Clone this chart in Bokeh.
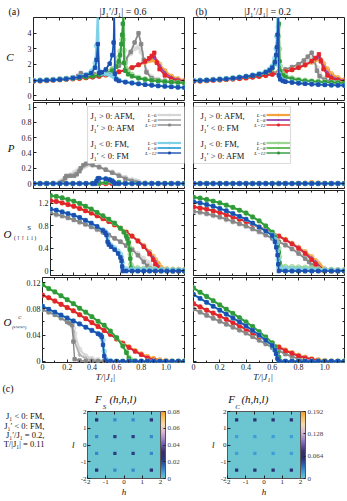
from bokeh.plotting import figure
from bokeh.layouts import column, row
from bokeh.models import (LinearAxis, FixedTicker, Range1d, Label, BoxAnnotation, Legend,
                          LegendItem, ColorBar, LinearColorMapper, ColumnDataSource, Title)
from bokeh.core.properties import value
from bokeh.embed import file_html
from bokeh.resources import INLINE

SERIF = "Liberation Serif"
X_MAX = 1.15
EM, EN, THIN = "\u2003", "\u2002", "\u2009"

# ---------------- tick definitions ----------------
X_MAJOR = [0, 0.2, 0.4, 0.6, 0.8, 1.0]
X_MINOR = [0.1, 0.3, 0.5, 0.7, 0.9, 1.1]
X_LABELS = ["0", "0.2", "0.4", "0.6", "0.8", "1.0"]
C_TICKS = [0, 1, 2, 3, 4]
C_LABELS = ["0", "1", "2", "3", "4"]
P_TICKS = [0, 0.2, 0.4, 0.6, 0.8, 1.0]
P_LABELS = ["0", "0.2", "0.4", "0.6", "0.8", "1"]
S_TICKS = [0, 0.4, 0.8, 1.2]
S_MINOR = [0.2, 0.6, 1.0]
S_LABELS = ["0", "0.4", "0.8", "1.2"]
O_TICKS = [0, 0.04, 0.08, 0.12]
O_MINOR = [0.02, 0.06, 0.1]
O_LABELS = ["0", "0.04", "0.08", "0.12"]

T05 = [0.0, 0.05, 0.1, 0.15, 0.2, 0.25, 0.3, 0.35, 0.4, 0.45, 0.5, 0.55, 0.6, 0.65,
       0.7, 0.75, 0.8, 0.85, 0.9, 0.95, 1.0, 1.05, 1.1, 1.15]
ZERO24 = [0, 0, 0, 0, 0, 0, 0, 0, 0, 0, 0, 0, 0, 0, 0, 0, 0, 0, 0, 0, 0, 0, 0, 0]

# ---------------- (a) |J1'/J1| = 0.6 : specific heat C ----------------
A_C_GRAY_T = [0.0, 0.05, 0.1, 0.15, 0.2, 0.25, 0.3, 0.34, 0.36, 0.38, 0.42, 0.46, 0.5, 0.55, 0.6,
              0.65, 0.7, 0.74, 0.77, 0.8, 0.82, 0.84, 0.86, 0.9, 0.95, 1.0, 1.05, 1.1, 1.15]
A_C_GRAY12 = [0.97, 1.0, 1.02, 1.05, 1.08, 1.12, 1.18, 1.26, 1.45, 1.3, 1.32, 1.38, 1.45, 1.55, 1.7,
              1.92, 2.3, 2.8, 3.4, 4.0, 3.3, 2.3, 1.5, 1.12, 1.0, 0.95, 0.91, 0.88, 0.85]
A_C_GRAY6 = [0.97, 1.0, 1.02, 1.05, 1.08, 1.12, 1.18, 1.24, 1.3, 1.32, 1.35, 1.4, 1.47, 1.57, 1.72,
             1.95, 2.3, 2.7, 3.0, 3.1, 2.8, 2.2, 1.6, 1.2, 1.05, 0.97, 0.92, 0.89, 0.86]
A_C_RED_T = [0.0, 0.05, 0.1, 0.15, 0.2, 0.25, 0.3, 0.35, 0.4, 0.45, 0.5, 0.55, 0.6, 0.65, 0.7, 0.75,
             0.8, 0.85, 0.88, 0.9, 0.92, 0.94, 0.96, 1.0, 1.05, 1.1, 1.15]
A_C_RED12 = [0.93, 0.95, 0.97, 1.0, 1.02, 1.05, 1.08, 1.11, 1.15, 1.2, 1.25, 1.33, 1.42, 1.53, 1.65,
             1.8, 1.98, 2.2, 2.4, 2.55, 2.75, 2.1, 1.7, 1.3, 1.07, 0.96, 0.9]
A_C_RED6 = [0.93, 0.95, 0.97, 1.0, 1.02, 1.05, 1.08, 1.11, 1.15, 1.2, 1.25, 1.33, 1.42, 1.53, 1.65,
            1.8, 1.97, 2.15, 2.25, 2.3, 2.28, 2.15, 2.0, 1.6, 1.25, 1.08, 0.98]
A_C_RED8 = [0.93, 0.95, 0.97, 1.0, 1.02, 1.05, 1.08, 1.11, 1.15, 1.2, 1.25, 1.33, 1.42, 1.53, 1.65,
            1.8, 1.98, 2.18, 2.35, 2.48, 2.45, 2.2, 1.9, 1.45, 1.15, 1.02, 0.94]
A_C_GREEN_T = [0.0, 0.05, 0.1, 0.15, 0.2, 0.25, 0.3, 0.35, 0.4, 0.45, 0.5, 0.55, 0.6, 0.63, 0.65,
               0.66, 0.67, 0.675, 0.68, 0.685, 0.69, 0.7, 0.72, 0.75, 0.8, 0.85, 0.9, 0.95, 1.0,
               1.05, 1.1, 1.15]
A_C_GREEN12 = [0.97, 0.98, 1.0, 1.02, 1.05, 1.08, 1.12, 1.16, 1.2, 1.26, 1.32, 1.42, 1.6, 1.85, 2.2,
               2.6, 3.3, 3.9, 4.6, 5.3, 2.1, 1.6, 1.38, 1.25, 1.12, 1.04, 0.98, 0.94, 0.9, 0.87,
               0.84, 0.82]
A_C_GREEN6 = [0.98, 0.99, 1.01, 1.03, 1.06, 1.09, 1.13, 1.18, 1.23, 1.3, 1.38, 1.5, 1.72, 2.0, 2.45,
              2.85, 3.3, 3.6, 3.85, 3.6, 2.9, 2.1, 1.6, 1.36, 1.18, 1.08, 1.01, 0.96, 0.92, 0.89,
              0.86, 0.84]
A_C_BLUE_T = [0.0, 0.05, 0.1, 0.15, 0.2, 0.25, 0.3, 0.35, 0.4, 0.44, 0.47, 0.48, 0.49, 0.5, 0.52,
              0.55, 0.58, 0.6, 0.61, 0.615, 0.62, 0.63, 0.65, 0.7, 0.75, 0.8, 0.85, 0.9, 0.95, 1.0,
              1.05, 1.1, 1.15]
A_C_BLUE12 = [0.95, 0.97, 0.99, 1.01, 1.04, 1.08, 1.13, 1.2, 1.3, 1.45, 1.8, 2.3, 3.3, 1.45, 1.5,
              1.68, 2.05, 2.6, 3.4, 5.3, 1.4, 1.05, 0.95, 0.87, 0.81, 0.76, 0.71, 0.67, 0.63, 0.6,
              0.57, 0.54, 0.52]
A_C_BLUE6 = [0.97, 0.99, 1.01, 1.03, 1.06, 1.1, 1.15, 1.23, 1.35, 1.55, 2.1, 3.2, 5.3, 1.6, 1.45,
             1.4, 1.35, 1.3, 1.25, 1.22, 1.18, 1.1, 1.0, 0.9, 0.84, 0.78, 0.73, 0.69, 0.65, 0.62,
             0.59, 0.56, 0.54]

# ---------------- (b) |J1'/J1| = 0.2 : specific heat C ----------------
B_C_GRAY_T = [0.0, 0.05, 0.1, 0.15, 0.2, 0.25, 0.3, 0.35, 0.4, 0.45, 0.5, 0.55, 0.6, 0.65, 0.7, 0.75,
              0.8, 0.84, 0.87, 0.9, 0.92, 0.94, 0.96, 1.0, 1.05, 1.1, 1.15]
B_C_GRAY12 = [0.96, 0.98, 1.0, 1.03, 1.06, 1.09, 1.12, 1.16, 1.2, 1.25, 1.31, 1.38, 1.46, 1.56, 1.68,
              1.83, 2.02, 2.25, 2.5, 2.75, 2.3, 1.6, 1.25, 1.02, 0.94, 0.89, 0.85]
B_C_GRAY6 = [0.96, 0.98, 1.0, 1.03, 1.06, 1.09, 1.12, 1.16, 1.2, 1.25, 1.31, 1.38, 1.46, 1.56, 1.68,
             1.82, 1.98, 2.15, 2.3, 2.4, 2.25, 1.8, 1.4, 1.1, 0.97, 0.91, 0.87]
B_C_RED_T = [0.0, 0.05, 0.1, 0.15, 0.2, 0.25, 0.3, 0.35, 0.4, 0.45, 0.5, 0.55, 0.6, 0.65, 0.7, 0.75,
             0.8, 0.85, 0.9, 0.93, 0.955, 0.97, 0.99, 1.02, 1.05, 1.1, 1.15]
B_C_RED12 = [0.92, 0.94, 0.96, 0.99, 1.01, 1.04, 1.07, 1.1, 1.14, 1.19, 1.24, 1.3, 1.37, 1.45, 1.54,
             1.66, 1.8, 1.98, 2.22, 2.42, 2.65, 2.2, 1.7, 1.3, 1.12, 0.99, 0.92]
B_C_RED6 = [0.92, 0.94, 0.96, 0.99, 1.01, 1.04, 1.07, 1.1, 1.14, 1.19, 1.24, 1.3, 1.37, 1.45, 1.54,
            1.66, 1.8, 1.96, 2.15, 2.3, 2.38, 2.3, 2.05, 1.7, 1.4, 1.15, 1.02]
B_C_RED8 = [0.92, 0.94, 0.96, 0.99, 1.01, 1.04, 1.07, 1.1, 1.14, 1.19, 1.24, 1.3, 1.37, 1.45, 1.54,
            1.66, 1.8, 1.97, 2.2, 2.38, 2.5, 2.3, 1.85, 1.45, 1.22, 1.05, 0.96]
B_C_GREEN_T = [0.0, 0.05, 0.1, 0.15, 0.2, 0.25, 0.3, 0.35, 0.4, 0.45, 0.5, 0.55, 0.58, 0.6, 0.62,
               0.63, 0.64, 0.645, 0.65, 0.655, 0.66, 0.68, 0.7, 0.75, 0.8, 0.85, 0.9, 0.95, 1.0,
               1.05, 1.1, 1.15]
B_C_GREEN12 = [0.96, 0.98, 1.0, 1.03, 1.06, 1.09, 1.13, 1.17, 1.22, 1.28, 1.36, 1.48, 1.6, 1.75,
               2.05, 2.4, 3.0, 3.8, 4.6, 2.2, 1.55, 1.3, 1.2, 1.08, 1.0, 0.95, 0.92, 0.89, 0.87,
               0.85, 0.83, 0.81]
B_C_GREEN6 = [0.97, 0.99, 1.01, 1.04, 1.07, 1.1, 1.14, 1.19, 1.24, 1.31, 1.4, 1.53, 1.68, 1.85, 2.2,
              2.6, 3.3, 4.4, 5.3, 3.0, 1.9, 1.45, 1.3, 1.14, 1.05, 0.99, 0.95, 0.92, 0.89, 0.87,
              0.85, 0.83]
B_C_BLUE_T = [0.0, 0.05, 0.1, 0.15, 0.2, 0.25, 0.3, 0.35, 0.4, 0.45, 0.5, 0.55, 0.58, 0.6, 0.62,
              0.63, 0.635, 0.64, 0.645, 0.65, 0.66, 0.68, 0.7, 0.75, 0.8, 0.85, 0.9, 0.95, 1.0,
              1.05, 1.1, 1.15]
B_C_BLUE12 = [0.95, 0.97, 0.99, 1.02, 1.05, 1.08, 1.12, 1.17, 1.23, 1.3, 1.38, 1.5, 1.63, 1.8, 2.15,
              2.6, 3.1, 3.9, 5.3, 1.3, 1.05, 0.95, 0.9, 0.85, 0.8, 0.77, 0.74, 0.72, 0.7, 0.68,
              0.67, 0.66]
B_C_BLUE6 = [0.97, 0.99, 1.01, 1.04, 1.07, 1.1, 1.14, 1.19, 1.25, 1.33, 1.42, 1.55, 1.7, 1.9, 2.4,
             3.0, 3.8, 5.3, 2.0, 1.4, 1.15, 1.0, 0.94, 0.88, 0.83, 0.79, 0.76, 0.73, 0.71, 0.69,
             0.68, 0.67]

# ---------------- order parameter P ----------------
A_P_GRAY_T = [0.0, 0.05, 0.1, 0.15, 0.2, 0.22, 0.24, 0.25, 0.28, 0.31, 0.33, 0.35, 0.36, 0.38, 0.4,
              0.45, 0.5, 0.55, 0.6, 0.65, 0.7, 0.75, 0.78, 0.8, 0.85, 0.9, 0.95, 1.0, 1.05, 1.1, 1.15]
A_P_GRAY12 = [0, 0, 0, 0, 0, 0.02, 0.07, 0.1, 0.1, 0.1, 0.12, 0.16, 0.2, 0.24, 0.26, 0.245, 0.215,
              0.18, 0.14, 0.1, 0.06, 0.03, 0.012, 0.004, 0, 0, 0, 0, 0, 0, 0]
A_P_GRAY8 = [0, 0, 0, 0.002, 0.01, 0.03, 0.065, 0.09, 0.105, 0.12, 0.14, 0.175, 0.2, 0.23, 0.25,
             0.24, 0.215, 0.182, 0.145, 0.108, 0.07, 0.04, 0.022, 0.014, 0.004, 0.001, 0, 0, 0, 0, 0]
A_P_GRAY6 = [0, 0, 0, 0.005, 0.02, 0.04, 0.06, 0.08, 0.11, 0.14, 0.16, 0.19, 0.2, 0.22, 0.235,
             0.235, 0.215, 0.185, 0.15, 0.115, 0.08, 0.05, 0.035, 0.025, 0.01, 0.003, 0, 0, 0, 0, 0]
A_P_BLUE_T = [0.0, 0.05, 0.1, 0.15, 0.2, 0.25, 0.3, 0.35, 0.4, 0.45, 0.47, 0.48, 0.49, 0.5, 0.55,
              0.58, 0.6, 0.61, 0.62, 0.65, 0.7, 0.75, 0.8, 0.85, 0.9, 0.95, 1.0, 1.05, 1.1, 1.15]
A_P_BLUE12 = [0, 0, 0, 0, 0, 0, 0, 0, 0, 0, 0, 0.03, 0.065, 0.068, 0.062, 0.05, 0.035, 0.015, 0,
              0, 0, 0, 0, 0, 0, 0, 0, 0, 0, 0]
A_P_GREEN12 = [0, 0, 0, 0, 0, 0, 0, 0, 0, 0, 0.005, 0.015, 0.022, 0.015, 0, 0, 0, 0, 0, 0, 0, 0,
               0, 0]
B_P_RED6 = [0, 0, 0, 0, 0, 0, 0, 0, 0, 0, 0, 0, 0, 0, 0, 0, 0, 0.004, 0.012, 0.006, 0, 0, 0, 0]

# ---------------- O^S ----------------
A_S_GRAY_T = [0.0, 0.05, 0.1, 0.15, 0.2, 0.25, 0.3, 0.35, 0.4, 0.45, 0.5, 0.55, 0.6, 0.65, 0.7, 0.75,
              0.8, 0.83, 0.85, 0.88, 0.9, 0.95, 1.0, 1.05, 1.1, 1.15]
A_S_GRAY12 = [1.03, 1.005, 0.98, 0.945, 0.91, 0.87, 0.83, 0.785, 0.74, 0.69, 0.64, 0.58, 0.52, 0.45,
              0.38, 0.28, 0.16, 0.09, 0.05, 0.02, 0.01, 0, 0, 0, 0, 0]
A_S_GRAY6 = [1.02, 0.995, 0.97, 0.94, 0.905, 0.865, 0.825, 0.78, 0.735, 0.685, 0.635, 0.58, 0.52,
             0.46, 0.39, 0.31, 0.22, 0.16, 0.12, 0.07, 0.05, 0.02, 0.01, 0.005, 0, 0]
A_S_RED_T = [0.0, 0.05, 0.1, 0.15, 0.2, 0.25, 0.3, 0.35, 0.4, 0.45, 0.5, 0.55, 0.6, 0.65, 0.7, 0.75,
             0.8, 0.85, 0.88, 0.9, 0.92, 0.93, 0.95, 1.0, 1.05, 1.1, 1.15]
A_S_RED12 = [1.25, 1.235, 1.21, 1.18, 1.15, 1.11, 1.07, 1.03, 0.98, 0.93, 0.88, 0.82, 0.76, 0.69,
             0.62, 0.53, 0.43, 0.3, 0.2, 0.12, 0.05, 0.02, 0.01, 0, 0, 0, 0]
A_S_RED8 = [1.25, 1.235, 1.21, 1.18, 1.15, 1.11, 1.07, 1.03, 0.98, 0.93, 0.88, 0.82, 0.76, 0.69,
            0.62, 0.535, 0.44, 0.32, 0.23, 0.16, 0.09, 0.06, 0.03, 0.02, 0.015, 0.012, 0.01]
A_S_RED6 = [1.25, 1.235, 1.21, 1.18, 1.15, 1.11, 1.07, 1.03, 0.98, 0.93, 0.88, 0.82, 0.76, 0.69,
            0.62, 0.54, 0.45, 0.34, 0.26, 0.2, 0.14, 0.11, 0.06, 0.035, 0.03, 0.027, 0.025]
A_S_GREEN_T = [0.0, 0.05, 0.1, 0.15, 0.2, 0.25, 0.3, 0.35, 0.4, 0.45, 0.5, 0.55, 0.6, 0.63, 0.65,
               0.66, 0.67, 0.68, 0.685, 0.69, 0.7, 0.75, 0.8, 0.85, 0.9, 0.95, 1.0, 1.05, 1.1, 1.15]
A_S_GREEN12 = [1.34, 1.325, 1.3, 1.27, 1.24, 1.2, 1.15, 1.1, 1.04, 0.98, 0.92, 0.85, 0.76, 0.69,
               0.62, 0.57, 0.5, 0.38, 0.22, 0.05, 0, 0, 0, 0, 0, 0, 0, 0, 0, 0]
A_S_GREEN6 = [1.34, 1.325, 1.3, 1.27, 1.24, 1.2, 1.15, 1.1, 1.04, 0.98, 0.92, 0.85, 0.76, 0.69,
              0.63, 0.58, 0.52, 0.42, 0.3, 0.12, 0.07, 0.055, 0.045, 0.04, 0.035, 0.03, 0.028,
              0.025, 0.023, 0.021]
A_S_BLUE_T = [0.0, 0.05, 0.1, 0.15, 0.2, 0.25, 0.3, 0.35, 0.4, 0.45, 0.47, 0.48, 0.49, 0.5, 0.52,
              0.55, 0.58, 0.6, 0.61, 0.615, 0.62, 0.65, 0.7, 0.75, 0.8, 0.85, 0.9, 0.95, 1.0, 1.05,
              1.1, 1.15]
A_S_BLUE12 = [1.1, 1.08, 1.05, 1.02, 0.99, 0.95, 0.9, 0.85, 0.79, 0.72, 0.68, 0.64, 0.52, 0.47,
              0.43, 0.38, 0.31, 0.24, 0.18, 0.08, 0, 0, 0, 0, 0, 0, 0, 0, 0, 0, 0, 0]
A_S_BLUE6 = [1.1, 1.08, 1.05, 1.02, 0.99, 0.95, 0.9, 0.85, 0.79, 0.73, 0.7, 0.67, 0.6, 0.5, 0.45,
             0.41, 0.35, 0.3, 0.24, 0.15, 0.06, 0.035, 0.03, 0.028, 0.026, 0.024, 0.022, 0.021,
             0.02, 0.019, 0.018, 0.018]

B_S_GRAY_T = [0.0, 0.05, 0.1, 0.15, 0.2, 0.25, 0.3, 0.35, 0.4, 0.45, 0.5, 0.55, 0.6, 0.65, 0.7, 0.75,
              0.8, 0.85, 0.88, 0.9, 0.92, 0.95, 1.0, 1.05, 1.1, 1.15]
B_S_GRAY12 = [1.06, 1.045, 1.02, 0.99, 0.96, 0.92, 0.88, 0.84, 0.8, 0.75, 0.7, 0.64, 0.58, 0.52,
              0.46, 0.39, 0.31, 0.22, 0.16, 0.1, 0.04, 0.01, 0, 0, 0, 0]
B_S_GRAY6 = [1.05, 1.035, 1.01, 0.98, 0.95, 0.91, 0.87, 0.83, 0.79, 0.74, 0.69, 0.635, 0.58, 0.52,
             0.46, 0.4, 0.33, 0.25, 0.2, 0.15, 0.1, 0.05, 0.02, 0.01, 0.005, 0]
B_S_RED_T = [0.0, 0.05, 0.1, 0.15, 0.2, 0.25, 0.3, 0.35, 0.4, 0.45, 0.5, 0.55, 0.6, 0.65, 0.7, 0.75,
             0.8, 0.85, 0.9, 0.93, 0.95, 0.96, 0.97, 1.0, 1.05, 1.1, 1.15]
B_S_RED12 = [1.14, 1.12, 1.1, 1.07, 1.04, 1.0, 0.96, 0.92, 0.88, 0.83, 0.78, 0.73, 0.68, 0.62, 0.55,
             0.48, 0.4, 0.31, 0.2, 0.12, 0.06, 0.03, 0.015, 0.005, 0, 0, 0]
B_S_RED8 = [1.14, 1.12, 1.1, 1.07, 1.04, 1.0, 0.96, 0.92, 0.88, 0.83, 0.78, 0.73, 0.68, 0.62, 0.555,
            0.485, 0.41, 0.32, 0.22, 0.15, 0.09, 0.06, 0.04, 0.02, 0.015, 0.012, 0.01]
B_S_RED6 = [1.14, 1.12, 1.1, 1.07, 1.04, 1.0, 0.96, 0.92, 0.88, 0.83, 0.78, 0.73, 0.68, 0.62, 0.56,
            0.49, 0.42, 0.34, 0.25, 0.18, 0.13, 0.1, 0.07, 0.035, 0.025, 0.022, 0.02]
B_S_GREEN_T = [0.0, 0.05, 0.1, 0.15, 0.2, 0.25, 0.3, 0.35, 0.4, 0.45, 0.5, 0.55, 0.6, 0.62, 0.64,
               0.65, 0.655, 0.66, 0.7, 0.75, 0.8, 0.85, 0.9, 0.95, 1.0, 1.05, 1.1, 1.15]
B_S_GREEN12 = [1.31, 1.295, 1.27, 1.24, 1.21, 1.17, 1.13, 1.08, 1.03, 0.96, 0.89, 0.8, 0.69, 0.6,
               0.45, 0.33, 0.15, 0.02, 0, 0, 0, 0, 0, 0, 0, 0, 0, 0]
B_S_GREEN6 = [1.31, 1.295, 1.27, 1.24, 1.21, 1.17, 1.13, 1.08, 1.03, 0.96, 0.89, 0.8, 0.69, 0.62,
              0.5, 0.4, 0.25, 0.1, 0.08, 0.075, 0.07, 0.065, 0.06, 0.04, 0.03, 0.025, 0.02, 0.02]
B_S_BLUE_T = [0.0, 0.05, 0.1, 0.15, 0.2, 0.25, 0.3, 0.35, 0.4, 0.45, 0.5, 0.55, 0.6, 0.62, 0.63,
              0.64, 0.645, 0.65, 0.7, 0.75, 0.8, 0.85, 0.9, 0.95, 1.0, 1.05, 1.1, 1.15]
B_S_BLUE12 = [1.23, 1.21, 1.18, 1.15, 1.11, 1.07, 1.02, 0.97, 0.92, 0.85, 0.78, 0.71, 0.63, 0.52,
              0.42, 0.28, 0.12, 0, 0, 0, 0, 0, 0, 0, 0, 0, 0, 0]
B_S_BLUE6 = [1.23, 1.21, 1.18, 1.15, 1.11, 1.07, 1.02, 0.97, 0.92, 0.85, 0.78, 0.71, 0.64, 0.56,
             0.48, 0.36, 0.2, 0.06, 0.045, 0.04, 0.035, 0.03, 0.025, 0.02, 0.02, 0.018, 0.017, 0.016]

# ---------------- O^C ----------------
A_O_GRAY_T = [0.0, 0.05, 0.1, 0.15, 0.2, 0.22, 0.24, 0.25, 0.26, 0.3, 0.35, 0.4, 0.45, 0.5, 0.55,
              0.6, 0.65, 0.7, 0.75, 0.8, 0.85, 0.9, 0.95, 1.0, 1.05, 1.1, 1.15]
A_O_GRAY12 = [0.079, 0.075, 0.071, 0.066, 0.06, 0.058, 0.055, 0.03, 0.003, 0.001, 0, 0, 0, 0, 0, 0,
              0, 0, 0, 0, 0, 0, 0, 0, 0, 0, 0]
A_O_GRAY8 = [0.079, 0.075, 0.071, 0.066, 0.06, 0.058, 0.056, 0.045, 0.03, 0.01, 0.004, 0.002, 0.001,
             0, 0, 0, 0, 0, 0, 0, 0, 0, 0, 0, 0, 0, 0]
A_O_GRAY6 = [0.079, 0.075, 0.071, 0.066, 0.061, 0.059, 0.057, 0.05, 0.042, 0.018, 0.008, 0.004,
             0.002, 0.001, 0, 0, 0, 0, 0, 0, 0, 0, 0, 0, 0, 0, 0]
A_O_RED12 = [0.101, 0.097, 0.092, 0.087, 0.082, 0.077, 0.071, 0.065, 0.059, 0.053, 0.047, 0.041,
             0.034, 0.027, 0.021, 0.015, 0.01, 0.005, 0.002, 0, 0, 0, 0, 0]
A_O_RED6 = [0.101, 0.097, 0.092, 0.087, 0.082, 0.077, 0.071, 0.065, 0.059, 0.053, 0.047, 0.041,
            0.034, 0.028, 0.022, 0.016, 0.011, 0.007, 0.004, 0.002, 0.001, 0, 0, 0]
A_O_GREEN_T = [0.0, 0.05, 0.1, 0.15, 0.2, 0.25, 0.3, 0.35, 0.4, 0.45, 0.5, 0.55, 0.6, 0.65, 0.68,
               0.7, 0.72, 0.75, 0.8, 0.85, 0.9, 0.95, 1.0, 1.05, 1.1, 1.15]
A_O_GREEN12 = [0.117, 0.111, 0.106, 0.1, 0.094, 0.088, 0.081, 0.075, 0.068, 0.061, 0.055, 0.046,
               0.036, 0.023, 0.013, 0.004, 0, 0, 0, 0, 0, 0, 0, 0, 0, 0]
A_O_GREEN6 = [0.117, 0.111, 0.106, 0.1, 0.094, 0.088, 0.081, 0.075, 0.068, 0.061, 0.055, 0.046,
              0.036, 0.024, 0.014, 0.006, 0.002, 0.001, 0, 0, 0, 0, 0, 0, 0, 0]
A_O_BLUE_T = [0.0, 0.05, 0.1, 0.15, 0.2, 0.25, 0.3, 0.35, 0.4, 0.45, 0.47, 0.48, 0.49, 0.5, 0.51,
              0.55, 0.6, 0.65, 0.7, 0.75, 0.8, 0.85, 0.9, 0.95, 1.0, 1.05, 1.1, 1.15]
A_O_BLUE12 = [0.084, 0.0795, 0.075, 0.0705, 0.066, 0.0615, 0.057, 0.052, 0.047, 0.042, 0.04, 0.037,
              0.025, 0.008, 0.001, 0, 0, 0, 0, 0, 0, 0, 0, 0, 0, 0, 0, 0]
A_O_BLUE6 = [0.084, 0.0795, 0.075, 0.0705, 0.066, 0.0615, 0.057, 0.052, 0.047, 0.042, 0.04, 0.038,
             0.032, 0.015, 0.004, 0.001, 0, 0, 0, 0, 0, 0, 0, 0, 0, 0, 0, 0]

B_O_GRAY12 = [0.08, 0.075, 0.07, 0.0655, 0.061, 0.0565, 0.052, 0.0475, 0.043, 0.0375, 0.032, 0.0265,
              0.021, 0.016, 0.011, 0.007, 0.004, 0.001, 0, 0, 0, 0, 0, 0]
B_O_RED12 = [0.088, 0.083, 0.078, 0.0735, 0.069, 0.064, 0.059, 0.054, 0.049, 0.0435, 0.038, 0.0325,
             0.027, 0.0215, 0.016, 0.012, 0.008, 0.005, 0.003, 0.001, 0, 0, 0, 0]
B_O_RED6 = [0.088, 0.083, 0.078, 0.0735, 0.069, 0.064, 0.059, 0.054, 0.049, 0.0435, 0.038, 0.0325,
            0.027, 0.022, 0.017, 0.013, 0.009, 0.006, 0.0035, 0.002, 0.001, 0, 0, 0]
B_O_GREEN_T = [0.0, 0.05, 0.1, 0.15, 0.2, 0.25, 0.3, 0.35, 0.4, 0.45, 0.5, 0.55, 0.6, 0.62, 0.64,
               0.65, 0.66, 0.7, 0.75, 0.8, 0.85, 0.9, 0.95, 1.0, 1.05, 1.1, 1.15]
B_O_GREEN12 = [0.112, 0.1055, 0.099, 0.0925, 0.086, 0.0795, 0.073, 0.0665, 0.06, 0.053, 0.045, 0.037,
               0.028, 0.022, 0.013, 0.006, 0, 0, 0, 0, 0, 0, 0, 0, 0, 0, 0]
B_O_BLUE_T = [0.0, 0.05, 0.1, 0.15, 0.2, 0.25, 0.3, 0.35, 0.4, 0.45, 0.5, 0.55, 0.6, 0.62, 0.63,
              0.64, 0.65, 0.7, 0.75, 0.8, 0.85, 0.9, 0.95, 1.0, 1.05, 1.1, 1.15]
B_O_BLUE12 = [0.102, 0.096, 0.09, 0.084, 0.078, 0.072, 0.066, 0.06, 0.054, 0.047, 0.04, 0.032, 0.024,
              0.017, 0.011, 0.004, 0, 0, 0, 0, 0, 0, 0, 0, 0, 0, 0]

# ---------------- (c) structure factors ----------------
SPOT_H = [-1.5, -0.5, 0.5, 1.5, -1.5, -0.5, 0.5, 1.5, -1.5, -0.5, 0.5, 1.5, -1.5, -0.5, 0.5, 1.5]
SPOT_L = [1.5, 1.5, 1.5, 1.5, 0.5, 0.5, 0.5, 0.5, -0.5, -0.5, -0.5, -0.5, -1.5, -1.5, -1.5, -1.5]
FS_VAL = [0.024, 0.011, 0.011, 0.024, 0.011, 0.022, 0.022, 0.011,
          0.011, 0.022, 0.022, 0.011, 0.024, 0.011, 0.011, 0.024]
FC_VAL = [0.06, 0.06, 0.06, 0.06, 0.02, 0.02, 0.02, 0.02,
          0.02, 0.02, 0.02, 0.02, 0.06, 0.06, 0.06, 0.06]
HM_TICKS = [-2, -1, 0, 1, 2]
HM_LABELS = ["-2", "-1", "0", "1", "2"]
HM_TOP_TICKS = [-1.5, -0.5, 0.5, 1.5]
FS_CB_TICKS = [0, 0.02, 0.04, 0.06, 0.08]
FS_CB_LABELS = ["0", "0.02", "0.04", "0.06", "0.08"]
FC_CB_TICKS = [0, 0.064, 0.128, 0.192]
FC_CB_LABELS = ["0", "0.064", "0.128", "0.192"]
C_TEXT_L = [1.73, 1.16, 0.62, 0.08]
C_TEXT = ["J₁ < 0: FM,", "J₁′ < 0: FM,", "J₁′/J₁ = 0.2,", "T/|J₁| = 0.11"]

# ---------------- styling ----------------
GROUP_ORDER = ["gray", "red", "green", "blue"]
L_SIZES = [6, 8, 12]
COLORS = {
    "gray": {6: "#d6d6d6", 8: "#b3b3b3", 12: "#878787"},
    "red": {6: "#f6a23a", 8: "#9a46b0", 12: "#e5242a"},
    "green": {6: "#9ad592", 8: "#55b94f", 12: "#2f9a3b"},
    "blue": {6: "#80d0e8", 8: "#3aa6d8", 12: "#1d4fb0"},
}
MARKERS = {6: "circle", 8: "diamond", 12: "square"}
MSIZE = {6: 4.6, 8: 4.4, 12: 3.4}
LWIDTH = {6: 2.2, 8: 1.8, 12: 1.4}
CMAP_KEYS = ["#6cc6d2", "#3f9fd6", "#2c63b0", "#2b3277", "#3a2e6c", "#6a58a8", "#a88cc6",
             "#dcb9d2", "#f2dcb6", "#f6c46a", "#f39a2c"]


def lerp_palette(keys, n=256):
    rgb = [tuple(int(k[i:i + 2], 16) for i in (1, 3, 5)) for k in keys]
    out = []
    for j in range(n):
        t = j / (n - 1) * (len(rgb) - 1)
        i = min(int(t), len(rgb) - 2)
        f = t - i
        c = tuple(round(rgb[i][m] + (rgb[i + 1][m] - rgb[i][m]) * f) for m in range(3))
        out.append("#%02x%02x%02x" % c)
    return out


PALETTE = lerp_palette(CMAP_KEYS)


def S(T, Y6, Y8, Y12):
    return {6: (T, Y6), 8: (T, Y8), 12: (T, Y12)}


PANELS = {
    "aC": {"gray": S(A_C_GRAY_T, A_C_GRAY6, A_C_GRAY12, A_C_GRAY12),
           "red": S(A_C_RED_T, A_C_RED6, A_C_RED8, A_C_RED12),
           "green": S(A_C_GREEN_T, A_C_GREEN6, A_C_GREEN12, A_C_GREEN12),
           "blue": S(A_C_BLUE_T, A_C_BLUE6, A_C_BLUE12, A_C_BLUE12)},
    "bC": {"gray": S(B_C_GRAY_T, B_C_GRAY6, B_C_GRAY12, B_C_GRAY12),
           "red": S(B_C_RED_T, B_C_RED6, B_C_RED8, B_C_RED12),
           "green": S(B_C_GREEN_T, B_C_GREEN6, B_C_GREEN12, B_C_GREEN12),
           "blue": S(B_C_BLUE_T, B_C_BLUE6, B_C_BLUE12, B_C_BLUE12)},
    "aP": {"gray": S(A_P_GRAY_T, A_P_GRAY6, A_P_GRAY8, A_P_GRAY12),
           "red": S(T05, ZERO24, ZERO24, ZERO24),
           "green": S(T05, A_P_GREEN12, A_P_GREEN12, A_P_GREEN12),
           "blue": S(A_P_BLUE_T, A_P_BLUE12, A_P_BLUE12, A_P_BLUE12)},
    "bP": {"gray": S(T05, ZERO24, ZERO24, ZERO24),
           "red": S(T05, B_P_RED6, ZERO24, ZERO24),
           "green": S(T05, ZERO24, ZERO24, ZERO24),
           "blue": S(T05, ZERO24, ZERO24, ZERO24)},
    "aS": {"gray": S(A_S_GRAY_T, A_S_GRAY6, A_S_GRAY12, A_S_GRAY12),
           "red": S(A_S_RED_T, A_S_RED6, A_S_RED8, A_S_RED12),
           "green": S(A_S_GREEN_T, A_S_GREEN6, A_S_GREEN12, A_S_GREEN12),
           "blue": S(A_S_BLUE_T, A_S_BLUE6, A_S_BLUE12, A_S_BLUE12)},
    "bS": {"gray": S(B_S_GRAY_T, B_S_GRAY6, B_S_GRAY12, B_S_GRAY12),
           "red": S(B_S_RED_T, B_S_RED6, B_S_RED8, B_S_RED12),
           "green": S(B_S_GREEN_T, B_S_GREEN6, B_S_GREEN12, B_S_GREEN12),
           "blue": S(B_S_BLUE_T, B_S_BLUE6, B_S_BLUE12, B_S_BLUE12)},
    "aO": {"gray": S(A_O_GRAY_T, A_O_GRAY6, A_O_GRAY8, A_O_GRAY12),
           "red": S(T05, A_O_RED6, A_O_RED12, A_O_RED12),
           "green": S(A_O_GREEN_T, A_O_GREEN6, A_O_GREEN12, A_O_GREEN12),
           "blue": S(A_O_BLUE_T, A_O_BLUE6, A_O_BLUE12, A_O_BLUE12)},
    "bO": {"gray": S(T05, B_O_GRAY12, B_O_GRAY12, B_O_GRAY12),
           "red": S(T05, B_O_RED6, B_O_RED12, B_O_RED12),
           "green": S(B_O_GREEN_T, B_O_GREEN12, B_O_GREEN12, B_O_GREEN12),
           "blue": S(B_O_BLUE_T, B_O_BLUE12, B_O_BLUE12, B_O_BLUE12)},
}


def tick_style(ax, major_in=3, minor_in=2):
    ax.axis_line_color = None
    ax.major_tick_in = major_in
    ax.major_tick_out = 0
    ax.minor_tick_in = minor_in
    ax.minor_tick_out = 0
    ax.major_tick_line_color = "#222222"
    ax.minor_tick_line_color = "#222222"


def hide_labels(ax):
    ax.major_label_text_font_size = "0px"
    ax.major_label_standoff = 0
    ax.major_label_text_alpha = 0


def show_labels(ax, ticks, labels, size="8px", standoff=2):
    ax.major_label_text_font = SERIF
    ax.major_label_text_font_size = size
    ax.major_label_standoff = standoff
    ax.major_label_text_color = "#222222"
    ax.major_label_overrides = dict(zip(ticks, labels))


def text_axis(p, side, ticks, labels, size, style="normal", standoff=0, font=SERIF):
    """An axis without line or ticks, used only to write texts beside the frame."""
    ax = LinearAxis(ticker=FixedTicker(ticks=ticks, minor_ticks=[]))
    ax.axis_line_color = None
    ax.major_tick_line_color = None
    ax.minor_tick_line_color = None
    ax.major_tick_in = 0
    ax.major_tick_out = 0
    ax.minor_tick_in = 0
    ax.minor_tick_out = 0
    ax.major_label_overrides = dict(zip(ticks, labels))
    ax.major_label_text_font = font
    ax.major_label_text_font_size = f"{size}px"
    ax.major_label_text_font_style = style
    ax.major_label_standoff = standoff
    ax.major_label_text_color = "#111111"
    p.add_layout(ax, side)


def add_text(p, x, y, text, size, align="left", style="normal", baseline="middle"):
    p.add_layout(Label(x=x, y=y, x_units="screen", y_units="screen", text=text,
                       text_font=SERIF, text_font_size=f"{size}px", text_align=align,
                       text_baseline=baseline, text_font_style=style, text_color="#111111"))


def make_title(text, offset, standoff, size=10):
    return Title(text=text, align="left", offset=offset, standoff=standoff, text_font=SERIF,
                 text_font_size=f"{size}px", text_font_style="normal", text_color="#111111")


def make_panel(col, frame_h, top_b, bot_b, yr, yt, ym, ylabels, xlabels):
    left, fw, right = (33, 151, 4) if col == "a" else (5, 151, 3)
    p = figure(width=left + fw + right, height=top_b + frame_h + bot_b,
               x_range=Range1d(0, X_MAX), y_range=Range1d(yr[0], yr[1]),
               output_backend="svg", toolbar_location=None, title=None,
               x_axis_location=None, y_axis_location=None,
               min_border_left=left, min_border_right=right,
               min_border_top=top_b, min_border_bottom=bot_b)
    p.grid.visible = False
    p.outline_line_color = "#222222"
    p.background_fill_color = "white"
    p.border_fill_color = "white"
    for loc in ("below", "above"):
        ax = LinearAxis(ticker=FixedTicker(ticks=X_MAJOR, minor_ticks=X_MINOR))
        tick_style(ax)
        if loc == "below" and xlabels:
            show_labels(ax, X_MAJOR, X_LABELS, standoff=1)
        else:
            hide_labels(ax)
        p.add_layout(ax, loc)
    for loc in ("left", "right"):
        ax = LinearAxis(ticker=FixedTicker(ticks=yt, minor_ticks=ym))
        tick_style(ax)
        if loc == "left" and col == "a":
            show_labels(ax, yt, ylabels)
        else:
            hide_labels(ax)
        p.add_layout(ax, loc)
    return p


def draw_series(p, data):
    rends = {}
    for g in GROUP_ORDER:
        for L in L_SIZES:
            T, Y = data[g][L]
            src = ColumnDataSource(dict(t=T, y=Y))
            c = COLORS[g][L]
            rl = p.line("t", "y", source=src, line_color=c, line_width=LWIDTH[L])
            rs = p.scatter("t", "y", source=src, marker=MARKERS[L], size=MSIZE[L],
                           line_color=c, fill_color=c, fill_alpha=0.45 if L == 6 else 1.0,
                           line_width=0.9)
            rends[(g, L)] = (rl, rs)
    return rends


ROWDEF = {
    "C": dict(frame_h=83, top_b=17, bot_b=1, yr=(-0.3, 5.0), yt=C_TICKS, ym=[], yl=C_LABELS),
    "P": dict(frame_h=86, top_b=1, bot_b=1, yr=(-0.065, 1.06), yt=P_TICKS, ym=[], yl=P_LABELS),
    "S": dict(frame_h=85, top_b=1, bot_b=1, yr=(-0.08, 1.43), yt=S_TICKS, ym=S_MINOR, yl=S_LABELS),
    "O": dict(frame_h=85, top_b=1, bot_b=22, yr=(-0.002, 0.128), yt=O_TICKS, ym=O_MINOR, yl=O_LABELS),
}

figs = {}
rends = {}
for rk, d in ROWDEF.items():
    for col in ("a", "b"):
        p = make_panel(col, d["frame_h"], d["top_b"], d["bot_b"], d["yr"], d["yt"], d["ym"],
                       d["yl"], xlabels=(rk == "O"))
        rends[col + rk] = draw_series(p, PANELS[col + rk])
        figs[col + rk] = p

# panel titles
figs["aC"].title = make_title("(a)" + EM * 8 + "|J₁′/J₁| = 0.6", -25, 1)
figs["bC"].title = make_title("(b)" + EM * 3 + EN + THIN + "|J₁′/J₁| = 0.2", 2, 1)

# y-axis names, written as texts of outer axes
text_axis(figs["aC"], "left", [2.48], ["C"], 11, "italic", standoff=11)
text_axis(figs["aP"], "left", [0.46], ["P"], 11, "italic", standoff=4)
text_axis(figs["aS"], "left", [0.76, 0.588], ["S" + EM, "(↑↑↓↓)"], 5.5, "normal",
          standoff=-1, font="DejaVu Serif")
text_axis(figs["aS"], "left", [0.657], ["O"], 11, "italic", standoff=-1)
text_axis(figs["aO"], "left", [0.0673, 0.0522], ["C" + EM, "(½½½)"], 5, "normal", standoff=-3)
text_axis(figs["aO"], "left", [0.0597], ["O"], 11, "italic", standoff=-3)

# x-axis names
text_axis(figs["aO"], "below", [0.51], ["T/|J₁|"], 9, "italic", standoff=-1)
text_axis(figs["bO"], "below", [0.53], ["T/|J₁|"], 9, "italic", standoff=-1)

# ---------------- legend inside the P row ----------------
PA_H, P_W = 86, 151
P_YR = ROWDEF["P"]["yr"]


def ydata(px):
    return P_YR[0] + px / PA_H * (P_YR[1] - P_YR[0])


box_a = BoxAnnotation(left=54 / P_W * X_MAX, right=1.6, top=ydata(82), bottom=ydata(25),
                      fill_color="white", fill_alpha=1.0, line_color="#8a8a8a", line_width=1.2)
box_b = BoxAnnotation(left=-0.4, right=97 / P_W * X_MAX, top=ydata(82), bottom=ydata(25),
                      fill_color="white", fill_alpha=1.0, line_color="#8a8a8a", line_width=1.2)
figs["aP"].add_layout(box_a)
figs["bP"].add_layout(box_b)

LEG_TEXT = {
    "gray": ("J₁ > 0: AFM,", "J₁′ > 0: AFM"),
    "blue": ("J₁ < 0: FM,", "J₁′ < 0: FM"),
    "red": ("J₁ > 0: AFM,", "J₁′ < 0: FM"),
    "green": ("J₁ < 0: FM,", "J₁′ > 0: AFM"),
}
LEG_POS = {  # (panel, text x, swatch x, top y) in pixels from the frame's lower left
    "gray": ("aP", 57, 124, 76),
    "blue": ("aP", 57, 124, 48),
    "red": ("bP", 7, 73, 76),
    "green": ("bP", 7, 73, 48),
}
for g, (pk, tx, gx, ty) in LEG_POS.items():
    p = figs[pk]
    add_text(p, tx, ty - 3, LEG_TEXT[g][0], 8.5)
    add_text(p, tx, ty - 15, LEG_TEXT[g][1], 8.5)
    items = []
    for i, L in enumerate(L_SIZES):
        add_text(p, gx - 1, ty - 2.5 - 5 * i, f"L={L}", 5, align="right", style="italic")
        items.append(LegendItem(label=value(" "), renderers=list(rends[pk][(g, L)])))
    leg = Legend(items=items, location=(gx, ty - 15), orientation="vertical",
                 background_fill_alpha=0, border_line_alpha=0, padding=0, margin=0, spacing=0,
                 glyph_width=24, glyph_height=5, label_height=5, label_width=0,
                 label_standoff=0, label_text_font_size="4px")
    p.add_layout(leg)


# ---------------- (c) structure-factor maps ----------------
def make_heat(left_b, right_b, vals, high, cb_ticks, cb_labels, sub, title_h):
    p = figure(width=left_b + 73 + right_b, height=116, x_range=Range1d(-2, 2),
               y_range=Range1d(-2, 2), output_backend="svg", toolbar_location=None, title=None,
               x_axis_location=None, y_axis_location=None,
               min_border_left=left_b, min_border_right=right_b,
               min_border_top=20, min_border_bottom=22)
    p.grid.visible = False
    p.background_fill_color = PALETTE[0]
    p.border_fill_color = "white"
    p.outline_line_color = "#555555"
    mapper = LinearColorMapper(palette=PALETTE, low=0, high=high)
    src = ColumnDataSource(dict(h=SPOT_H, l=SPOT_L, v=vals))
    p.rect("h", "l", width=0.18, height=0.18, source=src,
           fill_color={"field": "v", "transform": mapper}, line_color=None)
    ax = LinearAxis(ticker=FixedTicker(ticks=HM_TICKS))
    tick_style(ax, 3, 2)
    show_labels(ax, HM_TICKS, HM_LABELS, "7px", standoff=1)
    p.add_layout(ax, "below")
    ay = LinearAxis(ticker=FixedTicker(ticks=HM_TICKS))
    tick_style(ay, 3, 2)
    show_labels(ay, HM_TICKS, HM_LABELS, "7px", standoff=1)
    p.add_layout(ay, "left")
    at = LinearAxis(ticker=FixedTicker(ticks=HM_TOP_TICKS))
    tick_style(at, 3, 2)
    hide_labels(at)
    p.add_layout(at, "above")
    # axis names and map title
    text_axis(p, "below", [0], ["h"], 9, "italic", standoff=0)
    text_axis(p, "left", [0], ["l"], 9, "italic", standoff=3)
    text_axis(p, "above", [title_h[1]], [sub], 7, "italic", standoff=1)
    text_axis(p, "above", [title_h[0], title_h[2]], ["F", "(h,h,l)"], 11, "italic", standoff=-5)
    cb = ColorBar(color_mapper=mapper, ticker=FixedTicker(ticks=cb_ticks),
                  major_label_overrides=dict(zip(cb_ticks, cb_labels)),
                  width=5, padding=0, margin=1, label_standoff=2,
                  major_label_text_font=SERIF, major_label_text_font_size="7px",
                  major_tick_line_color="#222222", major_tick_in=2, major_tick_out=0,
                  minor_tick_line_color=None, bar_line_color="#555555",
                  border_line_color=None, background_fill_alpha=0)
    p.add_layout(cb, "right")
    return p


hm1 = make_heat(87, 45, FS_VAL, 0.08, FS_CB_TICKS, FS_CB_LABELS, "S", (-1.4, -1.07, -0.06))
text_axis(hm1, "left", C_TEXT_L, C_TEXT, 8.5, "normal", standoff=24)
hm1.title = make_title("(c)", -85, -8)
hm2 = make_heat(22, 47, FC_VAL, 0.192, FC_CB_TICKS, FC_CB_LABELS, "C", (-1.78, -1.45, -0.5))

layout = column(
    row(figs["aC"], figs["bC"]),
    row(figs["aP"], figs["bP"]),
    row(figs["aS"], figs["bS"]),
    row(figs["aO"], figs["bO"]),
    row(hm1, hm2),
)

open("out.html", "w").write(file_html(layout, INLINE))
